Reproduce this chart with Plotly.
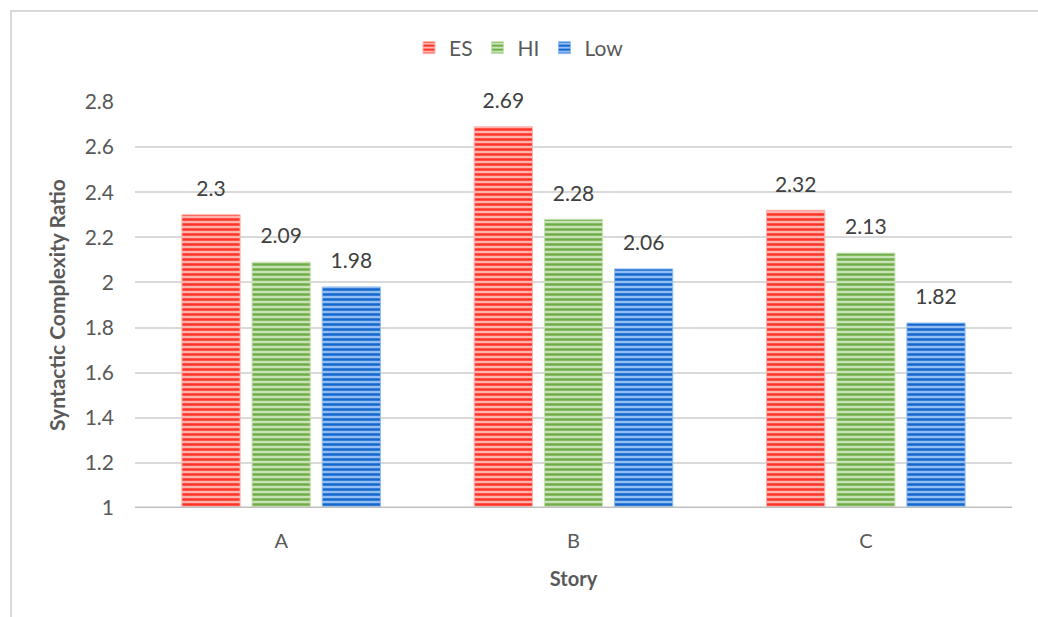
import plotly.graph_objects as go

stories = ["A", "B", "C"]
series_names = ["ES", "HI", "Low"]
es_values = [2.3, 2.69, 2.32]
hi_values = [2.09, 2.28, 2.13]
low_values = [1.98, 2.06, 1.82]
y_ticks = [1, 1.2, 1.4, 1.6, 1.8, 2, 2.2, 2.4, 2.6, 2.8]
y_tick_labels = ["1", "1.2", "1.4", "1.6", "1.8", "2", "2.2", "2.4", "2.6", "2.8"]

styles = {
    "ES": dict(fg="#FF3326", bg="#FFB3AC"),
    "HI": dict(fg="#6FAD47", bg="#C9E3B8"),
    "Low": dict(fg="#1467CF", bg="#92BDF0"),
}

FONT = "Lato, 'Open Sans', sans-serif"
TXT = "#595959"

fig = go.Figure()
for name, vals in zip(series_names, [es_values, hi_values, low_values]):
    s = styles[name]
    fig.add_trace(go.Bar(
        x=stories, y=vals, name=name,
        offsetgroup=name,
        marker=dict(
            color=s["bg"],
            line=dict(width=1, color=s["bg"]),
            pattern=dict(shape="-", fillmode="replace", fgcolor=s["fg"], bgcolor=s["bg"],
                         size=5, solidity=0.5),
        ),
    ))

# data labels, grouped the same way as the bars
for name, vals in zip(series_names, [es_values, hi_values, low_values]):
    fig.add_trace(go.Scatter(
        x=stories, y=vals, mode="markers+text",
        offsetgroup=name,
        text=[f"{v:g}" for v in vals],
        textposition="top center",
        textfont=dict(size=21, color="#404040", family=FONT),
        marker=dict(size=20, opacity=0),
        cliponaxis=False, showlegend=False, hoverinfo="skip",
    ))

fig.update_layout(
    width=1038, height=617,
    paper_bgcolor="white", plot_bgcolor="white",
    margin=dict(l=135, r=26, t=102, b=109),
    barmode="group", bargap=0.28, bargroupgap=0.17,
    scattermode="group", scattergap=0.28,
    font=dict(family=FONT, color=TXT, size=18),
    legend=dict(
        orientation="h", xref="container", x=0.5, xanchor="center",
        yref="container", y=1 - 48 / 617, yanchor="middle",
        font=dict(size=21, color=TXT, family=FONT),
        traceorder="normal",
    ),
    showlegend=True,
    xaxis=dict(
        title=dict(text="<b>Story</b>", font=dict(size=20, color=TXT), standoff=20),
        showgrid=False, showline=False, ticks="",
        ticklabelstandoff=19,
        tickfont=dict(size=20, color=TXT),
    ),
    yaxis=dict(
        title=dict(text="<b>Syntactic Complexity Ratio</b>", font=dict(size=21, color=TXT), standoff=13),
        range=[1, 2.8],
        tickvals=y_ticks, ticktext=y_tick_labels,
        showgrid=True, gridcolor="#D9D9D9", gridwidth=1.5,
        zeroline=False, showline=False, ticks="",
        ticklabelstandoff=20,
        tickfont=dict(size=21, color=TXT),
    ),
    shapes=[
        dict(type="line", xref="paper", yref="y", x0=0, x1=1, y0=1, y1=1,
             line=dict(color="#BFBFBF", width=3)),
        dict(type="line", xref="paper", yref="paper",
             x0=(10 - 135) / 877, x1=(1040 - 135) / 877,
             y0=1 + (102 - 11) / 406, y1=1 + (102 - 11) / 406,
             line=dict(color="#D9D9D9", width=2)),
        dict(type="line", xref="paper", yref="paper",
             x0=(11 - 135) / 877, x1=(11 - 135) / 877,
             y0=1 + (102 - 11) / 406, y1=-(620 - 508) / 406,
             line=dict(color="#D9D9D9", width=2)),
    ],
)

fig.write_html("out.html", config={"displayModeBar": False})

with open("out.html", "r", encoding="utf-8") as f:
    html = f.read()
html = html.replace("<body>", '<body style="margin:0;padding:0;overflow:hidden">', 1)
with open("out.html", "w", encoding="utf-8") as f:
    f.write(html)
